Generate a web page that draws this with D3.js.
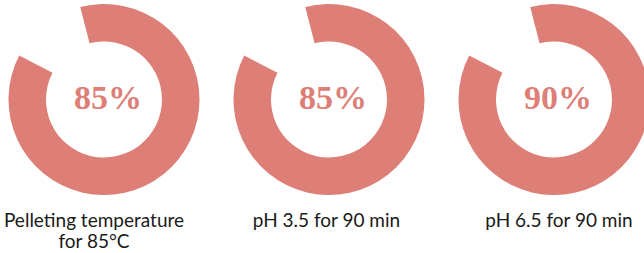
<!DOCTYPE html>
<html>
<head>
<meta charset="utf-8">
<script src="https://cdn.jsdelivr.net/npm/d3@7"></script>
<style>
  html, body { margin: 0; padding: 0; background: #fff; }
  svg { display: block; }
</style>
</head>
<body>
<div id="chart"></div>
<script>
// data
let conditions = ['Pelleting temperature|for 85°C', 'pH 3.5 for 90 min', 'pH 6.5 for 90 min'];
let percentLabels = ['85%', '85%', '90%'];
// the filled part of each ring (all three rings are drawn the same in the picture)
let ringShare = [0.866, 0.866, 0.866];

let config = {
  'svg': {},
  'ring': {}
};
config.svg.width = 644;
config.svg.height = 253;
config.ring.cy = 99.5;
config.ring.outer = 95.5;
config.ring.inner = 58;
config.ring.start = -14.4 * Math.PI / 180;

let color = '#dd7f77';

let svg = d3.select('#chart').append('svg')
  .attr('width', config.svg.width)
  .attr('height', config.svg.height);

let idx = conditions.map((d, i) => i);
let x = d3.scalePoint().domain(idx).range([104, 554]);
let xLabel = d3.scalePoint().domain(idx).range([94, 559]);

let share = d3.scaleLinear().domain([0, 1]).range([0, 2 * Math.PI]);

let arc = d3.arc()
  .innerRadius(config.ring.inner)
  .outerRadius(config.ring.outer)
  .startAngle(config.ring.start)
  .endAngle(d => config.ring.start + share(d));

let rings = svg.selectAll('.ring')
  .data(idx)
  .enter().append('g')
  .attr('class', 'ring')
  .attr('transform', d => 'translate(' + x(d) + ',' + config.ring.cy + ')');

rings.append('path')
  .attr('d', d => arc(ringShare[d]))
  .style('fill', color);

rings.append('text')
  .attr('x', 4)
  .attr('y', 9)
  .attr('text-anchor', 'middle')
  .style('font-family', '"Liberation Serif", "DejaVu Serif", serif')
  .style('font-weight', 'bold')
  .style('font-size', '34px')
  .style('fill', color)
  .text(d => percentLabels[d]);

let labels = svg.selectAll('.label')
  .data(idx)
  .enter().append('text')
  .attr('class', 'label')
  .attr('x', d => xLabel(d))
  .attr('y', 227)
  .attr('text-anchor', 'middle')
  .style('font-family', 'Lato, "Noto Sans", sans-serif')
  .style('font-size', '19px')
  .style('fill', '#1a1a1a');

labels.selectAll('tspan')
  .data(d => conditions[d].split('|'))
  .enter().append('tspan')
  .attr('x', function() { return d3.select(this.parentNode).attr('x'); })
  .attr('dy', (d, i) => i === 0 ? 0 : 21)
  .text(d => d);
</script>
</body>
</html>
